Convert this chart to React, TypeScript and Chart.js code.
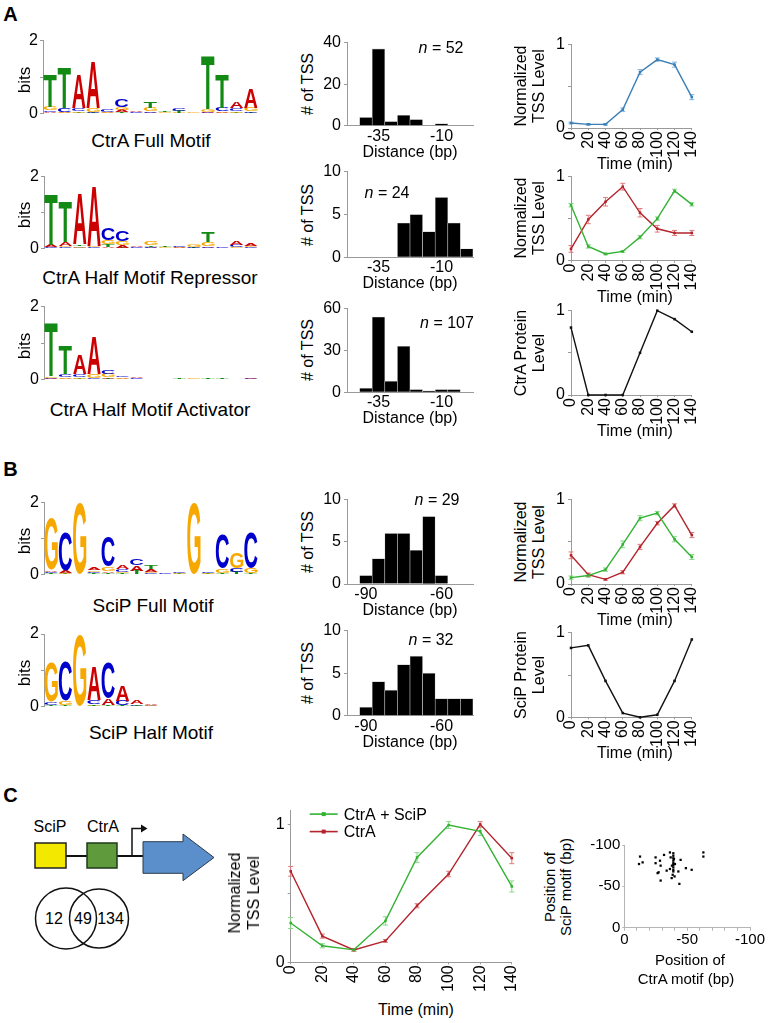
import React, { useEffect, useRef } from 'react';
import { Chart, registerables } from 'chart.js';
Chart.register(...registerables);

const FONT = '"Liberation Sans", Arial, Helvetica, sans-serif';
Chart.defaults.font.family = FONT;
Chart.defaults.color = '#000';

// ---------------- DATA ----------------
type Col = [string, number][];
const logoPositions = ['1', '2', '3', '4', '5', '6', '7', '8', '9', '10', '11', '12', '13', '14', '15'];
const bitsTicks = [0, 1, 2];

const ctraFullMotif: Col[] = [
  [['A', 0.03], ['C', 0.05], ['G', 0.1], ['T', 0.9]],
  [['A', 0.02], ['G', 0.03], ['C', 0.09], ['T', 1.09]],
  [['T', 0.02], ['G', 0.04], ['C', 0.08], ['A', 0.94]],
  [['T', 0.02], ['C', 0.03], ['G', 0.09], ['A', 1.3]],
  [['A', 0.02], ['G', 0.03], ['C', 0.07]],
  [['T', 0.03], ['A', 0.05], ['G', 0.08], ['C', 0.2]],
  [['G', 0.01], ['C', 0.02], ['A', 0.03]],
  [['A', 0.02], ['C', 0.05], ['G', 0.09], ['T', 0.16]],
  [['C', 0.01], ['G', 0.02], ['T', 0.03]],
  [['G', 0.02], ['T', 0.05], ['C', 0.07]],
  [['C', 0.01], ['G', 0.02]],
  [['C', 0.02], ['A', 0.02], ['G', 0.07], ['T', 1.46]],
  [['G', 0.02], ['A', 0.04], ['C', 0.09], ['T', 0.92]],
  [['T', 0.02], ['G', 0.05], ['C', 0.08], ['A', 0.17]],
  [['T', 0.02], ['C', 0.04], ['G', 0.1], ['A', 0.52]],
];
const ctraHalfRepressor: Col[] = [
  [['C', 0.03], ['A', 0.06], ['T', 1.4]],
  [['C', 0.03], ['G', 0.04], ['A', 0.12], ['T', 1.12]],
  [['C', 0.02], ['G', 0.04], ['T', 0.05], ['A', 1.4]],
  [['C', 0.03], ['G', 0.05], ['A', 1.65]],
  [['A', 0.03], ['T', 0.08], ['G', 0.12], ['C', 0.32]],
  [['T', 0.02], ['A', 0.06], ['G', 0.12], ['C', 0.3]],
  [['G', 0.01], ['C', 0.02], ['A', 0.02]],
  [['A', 0.02], ['C', 0.03], ['T', 0.05], ['G', 0.1]],
  [['C', 0.01], ['G', 0.02], ['T', 0.02]],
  [['G', 0.02], ['A', 0.02], ['C', 0.03]],
  [['T', 0.02], ['C', 0.03], ['G', 0.08]],
  [['A', 0.02], ['C', 0.05], ['G', 0.1], ['T', 0.28]],
  [['G', 0.01], ['C', 0.02]],
  [['G', 0.03], ['C', 0.06], ['A', 0.12]],
  [['C', 0.03], ['G', 0.05], ['A', 0.06]],
];
const ctraHalfActivator: Col[] = [
  [['C', 0.02], ['A', 0.03], ['G', 0.05], ['T', 1.45]],
  [['A', 0.02], ['G', 0.04], ['C', 0.08], ['T', 0.78]],
  [['T', 0.02], ['G', 0.04], ['C', 0.08], ['A', 0.55]],
  [['C', 0.04], ['G', 0.1], ['A', 1.04]],
  [['T', 0.02], ['A', 0.04], ['G', 0.1], ['C', 0.12]],
  [['A', 0.02], ['G', 0.04], ['C', 0.05]],
  [['G', 0.01], ['C', 0.02], ['A', 0.02]],
  [['C', 0.01], ['A', 0.01]],
  [['G', 0.01]],
  [['G', 0.01], ['T', 0.03]],
  [['C', 0.01], ['G', 0.02]],
  [['G', 0.01], ['T', 0.03]],
  [['C', 0.01], ['T', 0.02]],
  [['A', 0.01]],
  [['C', 0.02], ['A', 0.04]],
];
const scipFullMotif: Col[] = [
  [['T', 0.03], ['C', 0.04], ['A', 0.05], ['G', 1.42]],
  [['T', 0.02], ['G', 0.03], ['A', 0.06], ['C', 1.07]],
  [['G', 1.97]],
  [['T', 0.03], ['C', 0.04], ['G', 0.05], ['A', 0.07]],
  [['T', 0.04], ['A', 0.05], ['G', 0.12], ['C', 0.85]],
  [['T', 0.03], ['G', 0.05], ['C', 0.06], ['A', 0.12]],
  [['T', 0.1], ['A', 0.15], ['C', 0.17]],
  [['C', 0.03], ['G', 0.04], ['A', 0.08], ['T', 0.12]],
  [['G', 0.01], ['C', 0.02]],
  [['T', 0.02], ['G', 0.03], ['C', 0.05]],
  [['G', 1.97]],
  [['T', 0.02], ['G', 0.03], ['C', 0.05]],
  [['T', 0.05], ['G', 0.12], ['C', 0.95]],
  [['T', 0.07], ['C', 0.1], ['G', 0.45]],
  [['T', 0.03], ['G', 0.13], ['C', 1.0]],
];
const scipHalfMotif: Col[] = [
  [['T', 0.05], ['C', 0.08], ['G', 1.1]],
  [['T', 0.04], ['G', 0.12], ['C', 1.1]],
  [['G', 1.97]],
  [['G', 0.02], ['T', 0.05], ['C', 0.12], ['A', 0.94]],
  [['T', 0.03], ['A', 0.18], ['C', 0.97]],
  [['T', 0.03], ['C', 0.13], ['A', 0.43]],
  [['C', 0.02], ['T', 0.04], ['A', 0.1]],
  [['C', 0.02], ['G', 0.02], ['A', 0.02]],
  [['G', 0.01], ['C', 0.01]],
  [], [], [], [], [], [],
];

const ctraDistanceBins = ['-45', '-40', '-35', '-30', '-25', '-20', '-15', '-10', '-5', '0'];
const ctraDistanceTicks = ['-35', '-10'];
const scipDistanceBins = ['-95', '-90', '-85', '-80', '-75', '-70', '-65', '-60', '-55', '-50'];
const scipDistanceTicks = ['-90', '-60'];
const tssCtrAFull = [0, 4, 37, 2, 5, 3, 0, 1, 0, 0];
const tssCtrARepressor = [0, 0, 0, 0, 4, 5, 3, 7, 4, 1];
const tssCtrAActivator = [0, 3, 54, 8, 33, 2, 1, 2, 2, 0];
const tssSciPFull = [0, 1, 3, 6, 6, 4, 8, 1, 0, 0];
const tssSciPHalf = [0, 1, 4, 3, 6, 7, 5, 2, 2, 2];
const tssTicks40 = [0, 20, 40];
const tssTicks10 = [0, 5, 10];
const tssTicks60 = [0, 30, 60];

const timeMin = [0, 20, 40, 60, 80, 100, 120, 140];
const levelTicks = [0, 0.5, 1];
const ctraFullLevel = [0.06, 0.044, 0.044, 0.22, 0.67, 0.82, 0.76, 0.37];
const ctraFullErr = [0.01, 0.01, 0.01, 0.02, 0.03, 0.02, 0.03, 0.03];
const repressorRed = [0.14, 0.49, 0.7, 0.88, 0.57, 0.38, 0.33, 0.33];
const repressorRedErr = [0.04, 0.05, 0.05, 0.04, 0.05, 0.04, 0.03, 0.03];
const repressorGreen = [0.66, 0.17, 0.08, 0.11, 0.28, 0.5, 0.83, 0.67];
const repressorGreenErr = [0.02, 0.02, 0.01, 0.01, 0.02, 0.02, 0.02, 0.02];
const ctraProtein = [0.8, 0, 0, 0, 0.5, 1.0, 0.9, 0.75];
const scipFullGreen = [0.075, 0.1, 0.17, 0.47, 0.78, 0.84, 0.53, 0.32];
const scipFullGreenErr = [0.02, 0.02, 0.02, 0.04, 0.03, 0.02, 0.03, 0.03];
const scipFullRed = [0.34, 0.11, 0.055, 0.14, 0.44, 0.72, 0.93, 0.58];
const scipFullRedErr = [0.04, 0.02, 0.01, 0.02, 0.03, 0.02, 0.02, 0.03];
const scipProtein = [0.82, 0.85, 0.43, 0.05, 0.0, 0.03, 0.43, 0.92];
const comboCtrASciP = [0.285, 0.12, 0.09, 0.3, 0.76, 0.995, 0.95, 0.55];
const comboCtrASciPErr = [0.04, 0.015, 0.01, 0.03, 0.035, 0.025, 0.03, 0.04];
const comboCtrA = [0.66, 0.19, 0.09, 0.155, 0.41, 0.64, 1.0, 0.755];
const comboCtrAErr = [0.035, 0.015, 0.01, 0.01, 0.015, 0.02, 0.02, 0.04];
const comboLabels = ['CtrA + SciP', 'CtrA'];

const scatterCtrAPos = [-12.5, -14.6, -11.7, -24.9, -24.9, -28.4, -31.6, -28.9, -27.3, -26.5, -28.9, -33.7, -36.3, -36.9, -36.3, -39, -39, -39, -39, -39, -39, -39, -39, -39, -38.5, -37.7, -40, -40.3, -43, -44.8, -43.8, -49, -53.6, -62.9, -62.9, -39.5, -37.9];
const scatterSciPPos = [-86, -79, -77, -85, -78, -81, -88, -75, -67, -66, -57, -69, -91, -85, -71, -90, -87, -84, -81, -78, -76, -73, -70, -68, -64, -60, -62, -77, -68, -82, -53, -72, -70, -91, -86, -83, -75];
const scatterXTicks = [0, -10, -20, -30, -40, -50, -60, -70, -80, -90, -100];
const scatterYTicks = [0, -50, -100];
const vennCounts = [12, 49, 134];

// ---------------- STYLE ----------------
const AXIS = '#9a9a9a';
const LETTER_COLORS: Record<string, string> = { A: '#CC0000', C: '#0000CC', G: '#F7A800', T: '#138A13' };
const BLUE = '#3b7fb6', RED = '#b3242c', GREEN = '#33b233', BLACK = '#111';
const RED_ERR = '#e07a7a', GREEN_ERR = '#86d886', BLUE_ERR = '#7fb4dc';

type Rect = { l: number; t: number; r: number; b: number };

function frame(c: Rect, p: Rect) {
  return { padding: { left: 0, top: p.t - c.t, right: c.r - p.r, bottom: 0 }, yW: p.l - c.l, xH: c.b - p.b };
}
const fixedTicks = (vals: number[]) => (s: any) => { s.ticks = vals.map((v) => ({ value: v })); };

function drawLetter(ctx: CanvasRenderingContext2D, ch: string, x: number, y: number, w: number, h: number) {
  if (h < 0.35 || !ch) return;
  ctx.save();
  ctx.font = 'bold 100px ' + FONT;
  ctx.textAlign = 'left';
  ctx.textBaseline = 'alphabetic';
  const m = ctx.measureText(ch);
  const gw = m.actualBoundingBoxLeft + m.actualBoundingBoxRight;
  const gh = m.actualBoundingBoxAscent + m.actualBoundingBoxDescent;
  ctx.translate(x, y);
  ctx.scale(w / gw, h / gh);
  ctx.fillStyle = LETTER_COLORS[ch] || '#000';
  ctx.fillText(ch, m.actualBoundingBoxLeft, m.actualBoundingBoxAscent);
  ctx.restore();
}

function makeLogoPlugin(cols: Col[]) {
  return {
    id: 'logoLetters',
    afterDatasetsDraw(chart: any) {
      const { ctx, scales } = chart;
      const x = scales.x, y = scales.y;
      const step = x.getPixelForValue(1) - x.getPixelForValue(0);
      const w = step * 0.93;
      cols.forEach((col, i) => {
        const cx = x.getPixelForValue(i);
        let cum = 0;
        col.forEach(([letter, h]) => {
          const yb = y.getPixelForValue(cum);
          const yt = y.getPixelForValue(cum + h);
          cum += h;
          drawLetter(ctx, letter, cx - w / 2, yt, w, yb - yt);
        });
      });
    },
  };
}

const errorBarPlugin = {
  id: 'errorBars',
  beforeDatasetsDraw(chart: any) {
    const { ctx } = chart;
    const y = chart.scales.y;
    chart.data.datasets.forEach((ds: any, di: number) => {
      if (!ds.errors) return;
      const meta = chart.getDatasetMeta(di);
      ctx.save();
      ctx.strokeStyle = ds.errColor;
      ctx.lineWidth = 1;
      meta.data.forEach((pt: any, i: number) => {
        const v = ds.data[i].y;
        const e = ds.errors[i];
        const y1 = y.getPixelForValue(v - e), y2 = y.getPixelForValue(v + e);
        const px = pt.x;
        ctx.beginPath();
        ctx.moveTo(px, y1); ctx.lineTo(px, y2);
        ctx.moveTo(px - 2.5, y1); ctx.lineTo(px + 2.5, y1);
        ctx.moveTo(px - 2.5, y2); ctx.lineTo(px + 2.5, y2);
        ctx.stroke();
      });
      ctx.restore();
    });
  },
};

function makeLegendPlugin(dx: number, dy: number, gap: number) {
  return {
    id: 'inlineLegend',
    afterDraw(chart: any) {
      const { ctx, chartArea } = chart;
      chart.data.datasets.forEach((ds: any, i: number) => {
        const x0 = chartArea.left + dx;
        const yy = chartArea.top + dy + i * gap;
        ctx.save();
        ctx.strokeStyle = ds.borderColor;
        ctx.lineWidth = 1.6;
        ctx.beginPath(); ctx.moveTo(x0, yy); ctx.lineTo(x0 + 28, yy); ctx.stroke();
        ctx.fillStyle = ds.borderColor;
        ctx.fillRect(x0 + 14 - 2, yy - 2, 4, 4);
        ctx.fillStyle = '#000';
        ctx.font = '16px ' + FONT;
        ctx.textAlign = 'left';
        ctx.textBaseline = 'middle';
        ctx.fillText(ds.label, x0 + 34, yy + 1);
        ctx.restore();
      });
    },
  };
}

const baseOptions = (f: any, extraPadBottom = 0) => ({
  animation: false,
  responsive: false,
  devicePixelRatio: 1,
  events: [],
  layout: { padding: { ...f.padding, bottom: extraPadBottom }, autoPadding: false },
  plugins: { legend: { display: false }, tooltip: { enabled: false } },
});

function logoConfig(c: Rect, p: Rect, cols: Col[]) {
  const f = frame(c, p);
  return {
    type: 'bar',
    data: {
      labels: logoPositions,
      datasets: [{ data: cols.map((col) => col.reduce((s, [, h]) => s + h, 0)), backgroundColor: 'rgba(0,0,0,0)', borderWidth: 0 }],
    },
    options: {
      ...baseOptions(f, f.xH),
      scales: {
        x: { display: false, offset: true },
        y: {
          min: 0, max: 2,
          afterBuildTicks: fixedTicks(bitsTicks),
          afterFit: (s: any) => { s.width = f.yW; },
          ticks: { callback: (v: number) => (v === 1 ? '' : String(v)), font: { size: 16 }, padding: 2 },
          grid: { drawOnChartArea: false, tickLength: 3, color: AXIS },
          border: { color: AXIS },
        },
      },
    },
    plugins: [makeLogoPlugin(cols)],
  };
}

function histConfig(c: Rect, p: Rect, bins: string[], counts: number[], shown: string[], yMax: number, yTicks: number[]) {
  const f = frame(c, p);
  return {
    type: 'bar',
    data: {
      labels: bins,
      datasets: [{ data: counts, backgroundColor: '#000', borderColor: '#c8c8c8', borderWidth: 0.6, barPercentage: 1, categoryPercentage: 1 }],
    },
    options: {
      ...baseOptions(f),
      scales: {
        x: {
          offset: true,
          afterFit: (s: any) => { s.height = f.xH; },
          grid: { drawOnChartArea: false, drawTicks: false, color: AXIS },
          border: { color: AXIS },
          ticks: {
            autoSkip: false, maxRotation: 0, padding: 1, font: { size: 16 },
            callback: (_v: any, i: number) => (shown.includes(bins[i]) ? bins[i] : ''),
          },
        },
        y: {
          min: 0, max: yMax,
          afterBuildTicks: fixedTicks(yTicks),
          afterFit: (s: any) => { s.width = f.yW; },
          ticks: { font: { size: 16 }, padding: 3 },
          grid: { drawOnChartArea: false, tickLength: 3, color: AXIS },
          border: { color: AXIS },
        },
      },
    },
  };
}

type Series = { label?: string; values: number[]; errors?: number[]; color: string; errColor?: string };

function lineConfig(c: Rect, p: Rect, series: Series[], yMax: number, tickSize: number, legend = false) {
  const f = frame(c, p);
  return {
    type: 'line',
    data: {
      datasets: series.map((s) => ({
        label: s.label,
        data: timeMin.map((t, i) => ({ x: t, y: s.values[i] })),
        errors: s.errors,
        errColor: s.errColor,
        borderColor: s.color,
        backgroundColor: s.color,
        borderWidth: 1.4,
        pointRadius: 1.8,
        pointStyle: 'rect',
        pointBorderWidth: 0,
        pointBackgroundColor: s.color,
        tension: 0,
        clip: false,
      })),
    },
    options: {
      ...baseOptions(f),
      scales: {
        x: {
          type: 'linear', min: 0, max: 140,
          afterBuildTicks: fixedTicks(timeMin),
          afterFit: (s: any) => { s.height = f.xH; },
          ticks: { minRotation: 90, maxRotation: 90, autoSkip: false, padding: 1, font: { size: tickSize } },
          grid: { drawOnChartArea: false, tickLength: 2, color: AXIS },
          border: { color: AXIS },
        },
        y: {
          min: 0, max: yMax,
          afterBuildTicks: fixedTicks(levelTicks),
          afterFit: (s: any) => { s.width = f.yW; },
          ticks: { callback: (v: number) => (v === 0.5 ? '' : String(v)), font: { size: tickSize }, padding: 3 },
          grid: { drawOnChartArea: false, tickLength: 3, color: AXIS },
          border: { color: AXIS },
        },
      },
    },
    plugins: legend ? [errorBarPlugin, makeLegendPlugin(19, 3.5, 17.5)] : [errorBarPlugin],
  };
}

function scatterConfig(c: Rect, p: Rect) {
  const f = frame(c, p);
  return {
    type: 'scatter',
    data: {
      datasets: [{
        data: scatterCtrAPos.map((x, i) => ({ x, y: scatterSciPPos[i] })),
        backgroundColor: '#000', borderWidth: 0, pointRadius: 1.6, pointStyle: 'rect', clip: false,
      }],
    },
    options: {
      ...baseOptions(f),
      scales: {
        x: {
          type: 'linear', min: -100, max: 0, reverse: true,
          afterBuildTicks: fixedTicks(scatterXTicks),
          afterFit: (s: any) => { s.height = f.xH; },
          ticks: { autoSkip: false, maxRotation: 0, padding: 0, font: { size: 15 }, callback: (v: number) => (v % 50 === 0 ? String(v) : '') },
          grid: { drawOnChartArea: false, tickLength: 3, color: '#b5b5b5' },
          border: { color: '#b5b5b5' },
        },
        y: {
          type: 'linear', min: -100, max: 0, reverse: true,
          afterBuildTicks: fixedTicks(scatterYTicks),
          afterFit: (s: any) => { s.width = f.yW; },
          ticks: { font: { size: 15 }, padding: 2 },
          grid: { drawOnChartArea: false, tickLength: 2, color: '#b5b5b5' },
          border: { color: '#b5b5b5' },
        },
      },
    },
  };
}

function ChartCanvas({ rect, config }: { rect: Rect; config: () => any }) {
  const ref = useRef<HTMLCanvasElement>(null);
  useEffect(() => {
    const ch = new Chart(ref.current as HTMLCanvasElement, config());
    return () => ch.destroy();
  }, []);
  const w = rect.r - rect.l, h = rect.b - rect.t;
  return <canvas ref={ref} width={w} height={h} style={{ position: 'absolute', left: rect.l, top: rect.t, width: w, height: h }} />;
}

function Txt({ x, y, children, size = 16, rot = false, bold = false, lh }: any) {
  return (
    <div
      style={{
        position: 'absolute', left: x, top: y,
        transform: `translate(-50%,-50%)${rot ? ' rotate(-90deg)' : ''}`,
        fontSize: size, lineHeight: lh ? lh + 'px' : 1, fontWeight: bold ? 'bold' : 'normal',
        whiteSpace: 'pre', textAlign: 'center', fontFamily: FONT, color: '#000',
      }}
    >
      {children}
    </div>
  );
}

// ---------------- LAYOUT ----------------
const logoPlots: Rect[] = [
  { l: 43, t: 40.7, r: 258, b: 121 },
  { l: 44, t: 176.7, r: 258, b: 256 },
  { l: 44, t: 306.7, r: 258, b: 386.7 },
  { l: 44, t: 502.7, r: 258, b: 581.7 },
  { l: 44, t: 634, r: 258, b: 713.3 },
];
const histPlots: Rect[] = [
  { l: 347, t: 42.7, r: 473, b: 125.7 },
  { l: 347, t: 171.7, r: 473, b: 257.3 },
  { l: 347, t: 308.3, r: 473, b: 392.3 },
  { l: 347, t: 499.3, r: 473, b: 584 },
  { l: 347, t: 630.7, r: 473, b: 715.7 },
];
const linePlots: Rect[] = [
  { l: 571, t: 44, r: 699, b: 128 },
  { l: 571, t: 176, r: 699, b: 260.7 },
  { l: 571, t: 310.7, r: 699, b: 395 },
  { l: 571, t: 499.3, r: 699, b: 584 },
  { l: 571, t: 632.7, r: 699, b: 717.3 },
];
const bigPlot: Rect = { l: 290.7, t: 809.4, r: 518.3, b: 962.3 };
const scatterPlot: Rect = { l: 624.3, t: 844.3, r: 750, b: 927.7 };

const logoCanvas = (p: Rect): Rect => ({ l: 0, t: Math.floor(p.t) - 12, r: 262, b: Math.ceil(p.b) + 4 });
const histCanvas = (p: Rect): Rect => ({ l: 318, t: Math.floor(p.t) - 12, r: 482, b: Math.ceil(p.b) + 22 });
const lineCanvas = (p: Rect): Rect => ({ l: 548, t: Math.floor(p.t) - 12, r: 712, b: Math.ceil(p.b) + 32 });

const logoCols = [ctraFullMotif, ctraHalfRepressor, ctraHalfActivator, scipFullMotif, scipHalfMotif];
const logoTitles = ['CtrA Full Motif', 'CtrA Half Motif Repressor', 'CtrA Half Motif Activator', 'SciP Full Motif', 'SciP Half Motif'];
const logoTitlePos = [[151, 140], [150, 277], [150, 409], [153, 605], [151, 732]];

const histSets = [
  { bins: ctraDistanceBins, counts: tssCtrAFull, shown: ctraDistanceTicks, max: 40, ticks: tssTicks40, n: '52', np: [441, 48] },
  { bins: ctraDistanceBins, counts: tssCtrARepressor, shown: ctraDistanceTicks, max: 10, ticks: tssTicks10, n: '24', np: [387, 193] },
  { bins: ctraDistanceBins, counts: tssCtrAActivator, shown: ctraDistanceTicks, max: 60, ticks: tssTicks60, n: '107', np: [447, 323] },
  { bins: scipDistanceBins, counts: tssSciPFull, shown: scipDistanceTicks, max: 10, ticks: tssTicks10, n: '29', np: [437, 500] },
  { bins: scipDistanceBins, counts: tssSciPHalf, shown: scipDistanceTicks, max: 10, ticks: tssTicks10, n: '32', np: [431, 640] },
];

const lineSets: { series: Series[]; title: string }[] = [
  { series: [{ values: ctraFullLevel, errors: ctraFullErr, color: BLUE, errColor: BLUE_ERR }], title: 'Normalized\nTSS Level' },
  {
    series: [
      { values: repressorGreen, errors: repressorGreenErr, color: GREEN, errColor: GREEN_ERR },
      { values: repressorRed, errors: repressorRedErr, color: RED, errColor: RED_ERR },
    ],
    title: 'Normalized\nTSS Level',
  },
  { series: [{ values: ctraProtein, color: BLACK }], title: 'CtrA Protein\nLevel' },
  {
    series: [
      { values: scipFullGreen, errors: scipFullGreenErr, color: GREEN, errColor: GREEN_ERR },
      { values: scipFullRed, errors: scipFullRedErr, color: RED, errColor: RED_ERR },
    ],
    title: 'Normalized\nTSS Level',
  },
  { series: [{ values: scipProtein, color: BLACK }], title: 'SciP Protein\nLevel' },
];

function Diagram() {
  return (
    <svg style={{ position: 'absolute', left: 0, top: 800 }} width={260} height={160} viewBox="0 800 260 160">
      <g fontFamily={FONT} fontSize={16} textAnchor="middle" dominantBaseline="central">
        <text x={50} y={826}>SciP</text>
        <text x={103} y={826}>CtrA</text>
      </g>
      <line x1={66} y1={856} x2={143} y2={856} stroke="#111" strokeWidth={2} />
      <rect x={35} y={843} width={31} height={25} fill="#f3e900" stroke="#222" strokeWidth={1.5} />
      <rect x={87} y={843} width={30} height={25} fill="#5f9b3d" stroke="#1f3a1a" strokeWidth={1.5} />
      <polyline points="132,856 132,828.5 142,828.5" fill="none" stroke="#111" strokeWidth={1.5} />
      <polygon points="141,824.5 147.5,828.5 141,832.5" fill="#111" />
      <polygon points="143,841.7 183,841.7 183,834 214,857.5 183,880.7 183,873.3 143,873.3" fill="#5b8fcb" stroke="#2d3a4a" strokeWidth={1} />
      <circle cx={66} cy={918.5} r={30.5} fill="none" stroke="#111" strokeWidth={1.5} />
      <circle cx={99} cy={918.5} r={29.5} fill="none" stroke="#111" strokeWidth={1.5} />
      <g fontFamily={FONT} fontSize={16} textAnchor="middle" dominantBaseline="central">
        <text x={54} y={918}>{vennCounts[0]}</text>
        <text x={83} y={918}>{vennCounts[1]}</text>
        <text x={110.5} y={918}>{vennCounts[2]}</text>
      </g>
    </svg>
  );
}

export default function App() {
  return (
    <div style={{ position: 'absolute', left: 0, top: 0, width: 768, height: 1023, background: '#fff', overflow: 'hidden', fontFamily: FONT }}>
      {logoPlots.map((p, i) => (
        <ChartCanvas key={'logo' + i} rect={logoCanvas(p)} config={() => logoConfig(logoCanvas(p), p, logoCols[i])} />
      ))}
      {histPlots.map((p, i) => {
        const h = histSets[i];
        return <ChartCanvas key={'hist' + i} rect={histCanvas(p)} config={() => histConfig(histCanvas(p), p, h.bins, h.counts, h.shown, h.max, h.ticks)} />;
      })}
      {linePlots.map((p, i) => (
        <ChartCanvas key={'line' + i} rect={lineCanvas(p)} config={() => lineConfig(lineCanvas(p), p, lineSets[i].series, 1, 16)} />
      ))}
      <ChartCanvas
        rect={{ l: 262, t: 798, r: 532, b: 1000 }}
        config={() =>
          lineConfig({ l: 262, t: 798, r: 532, b: 1000 }, bigPlot, [
            { label: comboLabels[0], values: comboCtrASciP, errors: comboCtrASciPErr, color: GREEN, errColor: GREEN_ERR },
            { label: comboLabels[1], values: comboCtrA, errors: comboCtrAErr, color: RED, errColor: RED_ERR },
          ], 1.1, 16, true)
        }
      />
      <ChartCanvas rect={{ l: 584, t: 834, r: 766, b: 952 }} config={() => scatterConfig({ l: 584, t: 834, r: 766, b: 952 }, scatterPlot)} />

      <Diagram />

      <Txt x={10.5} y={13.5} size={20} bold>A</Txt>
      <Txt x={10.5} y={468.5} size={20} bold>B</Txt>
      <Txt x={10.5} y={795} size={20} bold>C</Txt>

      {logoPlots.map((p, i) => (
        <React.Fragment key={'lt' + i}>
          <Txt x={24} y={(p.t + p.b) / 2 - 1} size={17} rot>bits</Txt>
          <Txt x={logoTitlePos[i][0]} y={logoTitlePos[i][1]} size={19}>{logoTitles[i]}</Txt>
        </React.Fragment>
      ))}
      {histPlots.map((p, i) => (
        <React.Fragment key={'ht' + i}>
          <Txt x={308} y={(p.t + p.b) / 2} rot># of TSS</Txt>
          <Txt x={410} y={p.b + 26}>Distance (bp)</Txt>
          <Txt x={histSets[i].np[0]} y={histSets[i].np[1]}><i>n</i> = {histSets[i].n}</Txt>
        </React.Fragment>
      ))}
      {linePlots.map((p, i) => (
        <React.Fragment key={'lnt' + i}>
          <Txt x={530} y={(p.t + p.b) / 2} rot lh={18}>{lineSets[i].title}</Txt>
          <Txt x={635} y={p.b + 36}>Time (min)</Txt>
        </React.Fragment>
      ))}
      <Txt x={243.5} y={893} rot lh={19}>{'Normalized\nTSS Level'}</Txt>
      <Txt x={416} y={1010}>Time (min)</Txt>
      <Txt x={558} y={887} size={15} rot lh={16}>{'Position of\nSciP motif (bp)'}</Txt>
      <Txt x={690} y={959} size={15}>Position of</Txt>
      <Txt x={686} y={978} size={15}>CtrA motif (bp)</Txt>
    </div>
  );
}
